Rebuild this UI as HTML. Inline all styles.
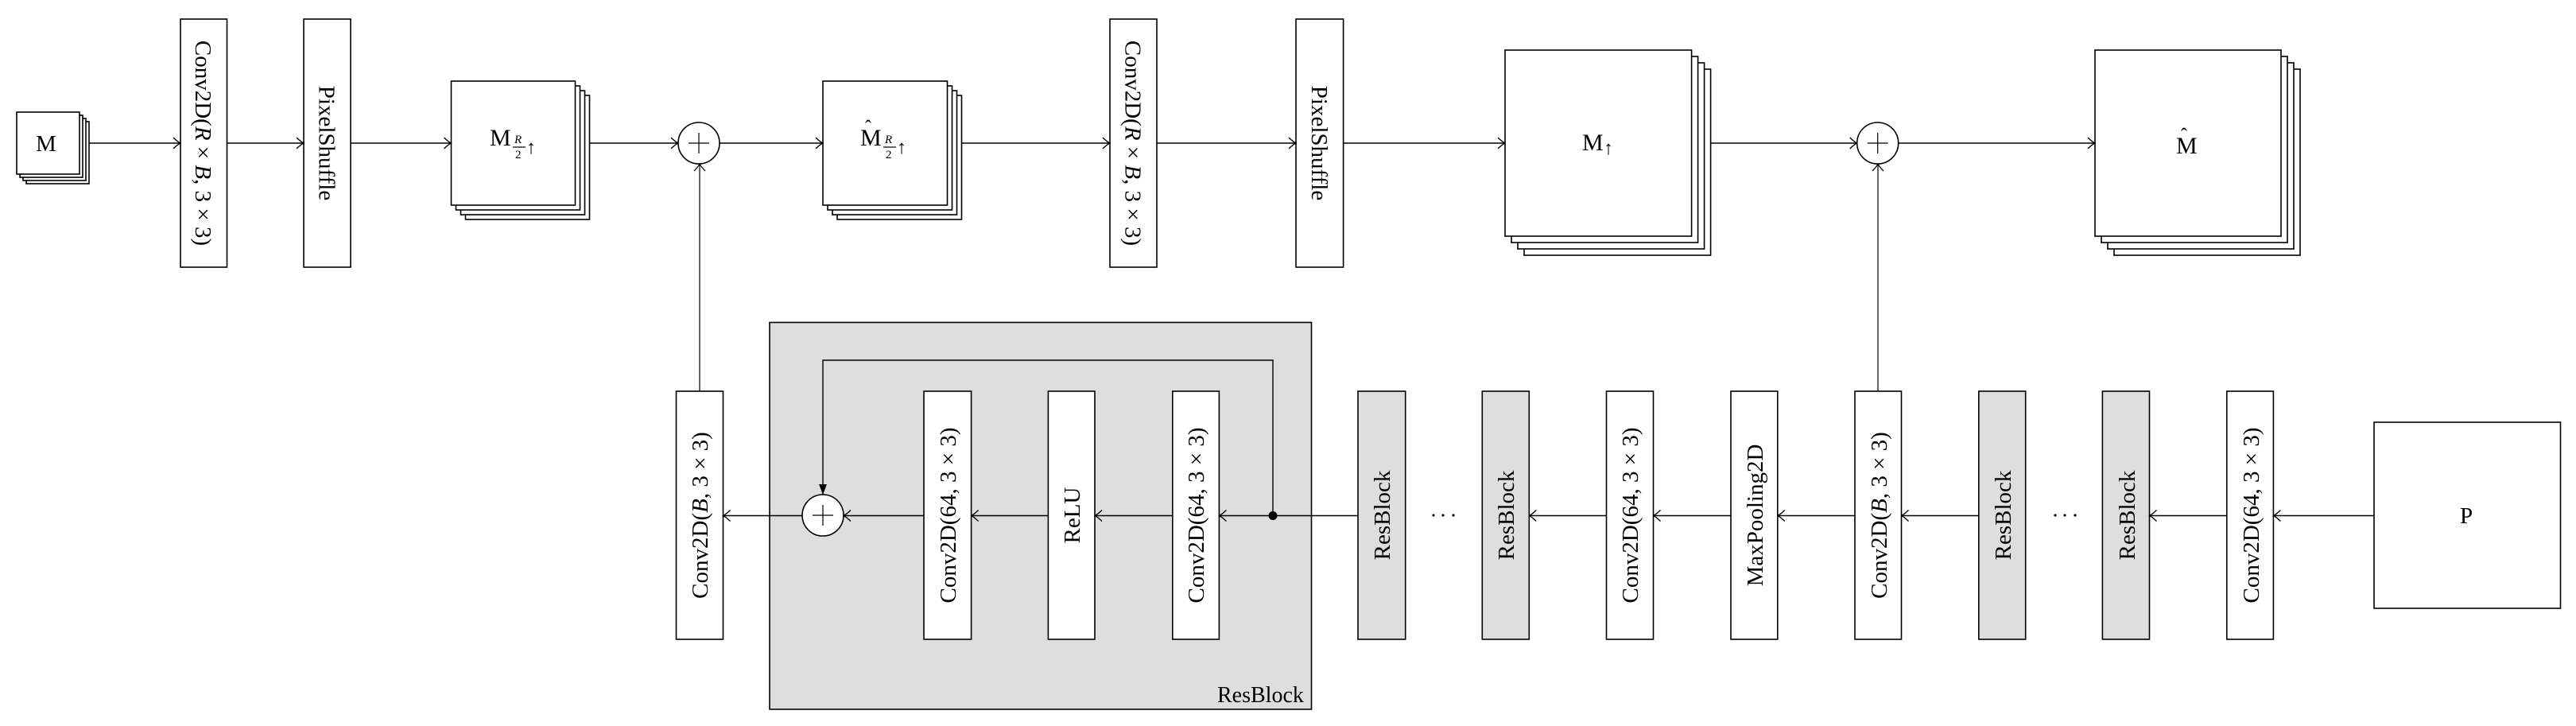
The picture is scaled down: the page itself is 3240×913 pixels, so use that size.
<!DOCTYPE html>
<html><head><meta charset="utf-8"><style>
html,body{margin:0;padding:0;background:#fff}
svg{display:block}
text{font-family:"Liberation Serif",serif;fill:#000}
</style></head><body>
<svg width="3240" height="913" viewBox="0 0 3240 913" xmlns="http://www.w3.org/2000/svg">
<defs>
<marker id="a" markerWidth="12" markerHeight="16" refX="11" refY="8" orient="auto" markerUnits="userSpaceOnUse">
<path d="M2,1 Q7,6 11,8 Q7,10 2,15" fill="none" stroke="#000" stroke-width="1.3"/>
</marker>
<marker id="t" markerWidth="14" markerHeight="14" refX="13" refY="7" orient="auto" markerUnits="userSpaceOnUse">
<path d="M0,2 L13,7 L0,12 Z" fill="#000"/>
</marker>
</defs>
<g stroke="#000" stroke-width="1.6" fill="#fff">
<rect x="33" y="153" width="79" height="78"/><rect x="29" y="149" width="79" height="78"/><rect x="25" y="145" width="79" height="78"/><rect x="21" y="141" width="79" height="78"/>
<rect x="585.5" y="120" width="156" height="156"/><rect x="579.5" y="114" width="156" height="156"/><rect x="573.5" y="108" width="156" height="156"/><rect x="567.5" y="102" width="156" height="156"/>
<rect x="1053" y="120" width="156.5" height="156"/><rect x="1047" y="114" width="156.5" height="156"/><rect x="1041" y="108" width="156.5" height="156"/><rect x="1035" y="102" width="156.5" height="156"/>
<rect x="1917" y="87" width="234.6" height="234"/><rect x="1909" y="79" width="234.6" height="234"/><rect x="1901" y="71" width="234.6" height="234"/><rect x="1893" y="63" width="234.6" height="234"/>
<rect x="2659" y="87" width="234" height="234"/><rect x="2651" y="79" width="234" height="234"/><rect x="2643" y="71" width="234" height="234"/><rect x="2635" y="63" width="234" height="234"/>
<rect x="227" y="24" width="58.5" height="312"/>
<rect x="382" y="24" width="59" height="312"/>
<rect x="1396" y="24" width="59" height="312"/>
<rect x="1630" y="24" width="59.6" height="312"/>
<circle cx="879" cy="180" r="26"/>
<circle cx="2361.7" cy="180" r="26"/>
<rect x="2986" y="531" width="234.5" height="234"/>
<rect x="968" y="405.5" width="681.5" height="486.5" fill="#dedede"/>
<rect x="850.5" y="492" width="59" height="312"/>
<rect x="1162" y="492" width="59.6" height="312"/>
<rect x="1318.4" y="492" width="58.6" height="312"/>
<rect x="1474.8" y="492" width="58.6" height="312"/>
<rect x="1708" y="492" width="59.7" height="312" fill="#dedede"/>
<rect x="1864.3" y="492" width="59" height="312" fill="#dedede"/>
<rect x="2020.5" y="492" width="59" height="312"/>
<rect x="2177" y="492" width="58.8" height="312"/>
<rect x="2333" y="492" width="58.5" height="312"/>
<rect x="2488.8" y="492" width="58.9" height="312" fill="#dedede"/>
<rect x="2644.4" y="492" width="59.1" height="312" fill="#dedede"/>
<rect x="2800.8" y="492" width="58.6" height="312"/>
<circle cx="1035" cy="648" r="26"/>
</g>
<g stroke="#000" stroke-width="1.6" fill="none">
<path d="M112,180 H227" marker-end="url(#a)"/>
<path d="M285.5,180 H382" marker-end="url(#a)"/>
<path d="M441,180 H567.5" marker-end="url(#a)"/>
<path d="M741.5,180 H853" marker-end="url(#a)"/>
<path d="M905,180 H1035" marker-end="url(#a)"/>
<path d="M1209.5,180 H1396" marker-end="url(#a)"/>
<path d="M1455,180 H1630" marker-end="url(#a)"/>
<path d="M1689.6,180 H1893" marker-end="url(#a)"/>
<path d="M2151.6,180 H2335.7" marker-end="url(#a)"/>
<path d="M2387.7,180 H2635" marker-end="url(#a)"/>
<path d="M880,492 V206" marker-end="url(#a)" stroke-width="1.2"/>
<path d="M2362,492 V206" marker-end="url(#a)" stroke-width="1.2"/>
<path d="M2986,648.5 H2859.4" marker-end="url(#a)"/>
<path d="M2800.8,648.5 H2703.5" marker-end="url(#a)"/>
<path d="M2488.8,648.5 H2391.5" marker-end="url(#a)"/>
<path d="M2333,648.5 H2235.8" marker-end="url(#a)"/>
<path d="M2177,648.5 H2079.5" marker-end="url(#a)"/>
<path d="M2020.5,648.5 H1923.3" marker-end="url(#a)"/>
<path d="M1708,648.5 H1533.4" marker-end="url(#a)"/>
<path d="M1474.8,648.5 H1377" marker-end="url(#a)"/>
<path d="M1318.4,648.5 H1221.6" marker-end="url(#a)"/>
<path d="M1162,648.5 H1061" marker-end="url(#a)"/>
<path d="M1009,648.5 H909.5" marker-end="url(#a)"/>
<path d="M1601,648.5 V453 H1035 V622" marker-end="url(#t)" stroke-width="1.4"/>
<path d="M866,180 H892 M879,167 V193 M2348.7,180 H2374.7 M2361.7,167 V193 M1022,648 H1048 M1035,635 V661" stroke-width="1.2"/>
</g>
<circle cx="1601" cy="648.5" r="5.5" fill="#000"/>
<g fill="#000"><circle cx="1803" cy="648" r="1.6"/><circle cx="1815" cy="648" r="1.6"/><circle cx="1828" cy="648" r="1.6"/>
<circle cx="2585" cy="648" r="1.6"/><circle cx="2597" cy="648" r="1.6"/><circle cx="2610" cy="648" r="1.6"/></g>
<text x="45" y="190" font-size="29">M</text>
<text x="616" y="183" font-size="30">M</text><text x="647" y="180" font-size="15" font-style="italic">R</text><path d="M645,185 H661" stroke="#000" stroke-width="1.2"/><text x="648" y="199" font-size="15">2</text><text x="662" y="193" font-size="24">↑</text>
<text x="1082" y="183" font-size="30">M</text><text x="1088" y="168" font-size="24">ˆ</text><text x="1113" y="180" font-size="15" font-style="italic">R</text><path d="M1111,185 H1127" stroke="#000" stroke-width="1.2"/><text x="1114" y="199" font-size="15">2</text><text x="1128" y="193" font-size="24">↑</text>
<text x="1990" y="189" font-size="30">M</text><text x="2017" y="194" font-size="24">↑</text>
<text x="2737" y="193" font-size="30">M</text><text x="2743" y="178" font-size="24">ˆ</text>
<text x="3094" y="658" font-size="29">P</text>
<text x="1531" y="883" font-size="28">ResBlock</text>
<g font-size="29" text-anchor="middle">
<text transform="translate(246,180) rotate(90)">Conv2D(<tspan font-style="italic">R</tspan> × <tspan font-style="italic">B</tspan>, 3 × 3)</text>
<text transform="translate(401.5,180) rotate(90)">PixelShuffle</text>
<text transform="translate(1415.5,180) rotate(90)">Conv2D(<tspan font-style="italic">R</tspan> × <tspan font-style="italic">B</tspan>, 3 × 3)</text>
<text transform="translate(1650,180) rotate(90)">PixelShuffle</text>
<text transform="translate(890,648) rotate(-90)">Conv2D(<tspan font-style="italic">B</tspan>, 3 × 3)</text>
<text transform="translate(1202,648) rotate(-90)">Conv2D(64, 3 × 3)</text>
<text transform="translate(1358,648) rotate(-90)">ReLU</text>
<text transform="translate(1514,648) rotate(-90)">Conv2D(64, 3 × 3)</text>
<text transform="translate(1748,648) rotate(-90)">ResBlock</text>
<text transform="translate(1904,648) rotate(-90)">ResBlock</text>
<text transform="translate(2060,648) rotate(-90)">Conv2D(64, 3 × 3)</text>
<text transform="translate(2217,648) rotate(-90)">MaxPooling2D</text>
<text transform="translate(2373,648) rotate(-90)">Conv2D(<tspan font-style="italic">B</tspan>, 3 × 3)</text>
<text transform="translate(2529,648) rotate(-90)">ResBlock</text>
<text transform="translate(2685,648) rotate(-90)">ResBlock</text>
<text transform="translate(2841,648) rotate(-90)">Conv2D(64, 3 × 3)</text>
</g>
</svg>
</body></html>
